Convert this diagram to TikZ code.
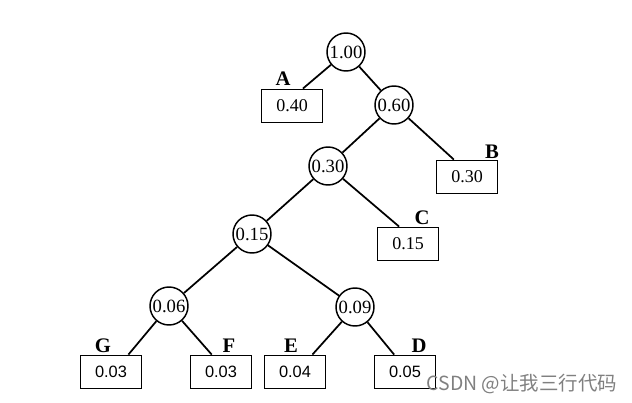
\documentclass[tikz,border=0pt]{standalone}
\usepackage{fontspec}
\setmainfont{Liberation Serif}
\newfontfamily\arialfont{Liberation Sans}
\newfontfamily\cjkfont{Noto Sans CJK SC}

\tikzset{every picture/.style={line width=0.75pt}}
\tikzset{
  innode/.style={draw, circle, line width=1.1pt, minimum size=28.5pt, inner sep=0pt, font=\fontsize{14}{15}\selectfont},
  leaf/.style={draw, rectangle, line width=1.1pt, minimum width=46pt, minimum height=25pt, inner sep=0pt, font=\fontsize{13.5}{15}\selectfont},
  leafsf/.style={leaf, font=\fontsize{12.3}{14}\arialfont},
  tag/.style={inner sep=0pt, font=\fontsize{15.5}{17}\selectfont\bfseries},
  branch/.style={line width=1.3pt}
}

\begin{document}
\begin{tikzpicture}[x=0.75pt,y=0.75pt,yscale=-1,xscale=1]
%set diagram size to 632 x 403
\useasboundingbox (0,0) rectangle (632,403);

%Shape: Circle (inner nodes)
\node [innode] (n100) at (346,52) {1.00};
\node [innode] (n060) at (394,105) {0.60};
\node [innode] (n030) at (328,166) {0.30};
\node [innode] (n015) at (252,234) {0.15};
\node [innode] (n006) at (169,306) {0.06};
\node [innode] (n009) at (355,307) {0.09};

%Flowchart: Process (leaves)
\node [leaf] (lfA) at (292,106) {0.40};
\node [leaf] (lfB) at (467,177) {0.30};
\node [leaf] (lfC) at (408,244) {0.15};
\node [leafsf] (lfG) at (111,372) {0.03};
\node [leafsf] (lfF) at (221,372) {0.03};
\node [leafsf] (lfE) at (295,372) {0.04};
\node [leafsf] (lfD) at (405,372) {0.05};

% Text Node
\node [tag] (tA) at (283,79) {A};
\node [tag] (tB) at (492,152) {B};
\node [tag] (tC) at (422,218) {C};
\node [tag] (tG) at (103,346) {G};
\node [tag] (tF) at (229,346) {F};
\node [tag] (tE) at (291,346) {E};
\node [tag] (tD) at (419,346) {D};

%Straight Lines
\draw [branch] (n100) -- (n060);
\draw [branch] (n060) -- (n030);
\draw [branch] (n030) -- (n015);
\draw [branch] (n015) -- (n006);
\draw [branch] (n015) -- (n009);
\draw [branch] (n100) -- (lfA.58);
\draw [branch] (n060) -- (lfB.127);
\draw [branch] (n030) -- (lfC.117);
\draw [branch] (n006) -- (lfG.45);
\draw [branch] (n006) -- (lfF.118);
\draw [branch] (n009) -- (lfE.45);
\draw [branch] (n009) -- (lfD.122);

% Text Node
\node [anchor=west, inner sep=0pt, text=black!50, font=\fontsize{14.6}{16}\cjkfont] (wm) at (426,384) {CSDN @让我三行代码};

\end{tikzpicture}
\end{document}
